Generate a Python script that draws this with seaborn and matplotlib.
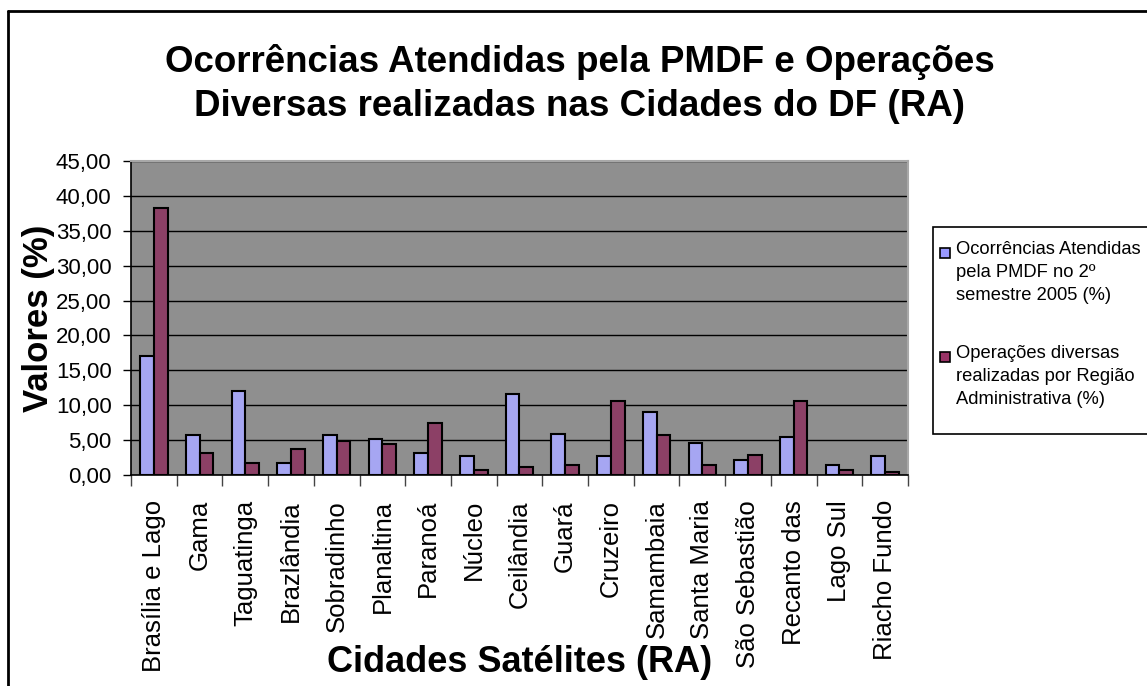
import matplotlib
matplotlib.use("Agg")
import matplotlib.pyplot as plt
import seaborn as sns
import pandas as pd
from matplotlib.ticker import FuncFormatter, FixedLocator, MultipleLocator
from matplotlib.patches import Rectangle
from matplotlib.lines import Line2D

categories = ["Brasília e Lago", "Gama", "Taguatinga", "Brazlândia", "Sobradinho",
              "Planaltina", "Paranoá", "Núcleo", "Ceilândia", "Guará", "Cruzeiro",
              "Samambaia", "Santa Maria", "São Sebastião", "Recanto das", "Lago Sul",
              "Riacho Fundo"]
ocorrencias = [17.1, 5.7, 12.1, 1.7, 5.7, 5.2, 3.2, 2.7, 11.6, 5.9, 2.7, 9.1, 4.6,
               2.1, 5.4, 1.5, 2.7]
operacoes = [38.2, 3.2, 1.7, 3.7, 4.9, 4.4, 7.4, 0.7, 1.2, 1.5, 10.6, 5.7, 1.5,
             2.9, 10.6, 0.7, 0.4]
series_names = ["Ocorrências Atendidas\npela PMDF no 2º\nsemestre 2005 (%)",
                "Operações diversas\nrealizadas por Região\nAdministrativa (%)"]
colors = ["#9999FF", "#993366"]
title = "Ocorrências Atendidas pela PMDF e Operações\nDiversas realizadas nas Cidades do DF (RA)"
y_ticks = [0, 5, 10, 15, 20, 25, 30, 35, 40, 45]

df = pd.DataFrame({
    "Cidade": categories * 2,
    "Valor": ocorrencias + operacoes,
    "Serie": [series_names[0]] * len(categories) + [series_names[1]] * len(categories),
})

sns.set_style("white")
plt.rcParams["font.family"] = ["Liberation Sans", "DejaVu Sans"]
plt.rcParams["text.color"] = "black"
plt.rcParams["axes.labelcolor"] = "black"
plt.rcParams["xtick.color"] = "black"
plt.rcParams["ytick.color"] = "black"

W, H = 1147, 686
fig = plt.figure(figsize=(W / 100, H / 100), dpi=100)
ax = fig.add_axes([131 / W, 1 - 475 / H, (908 - 131) / W, (475 - 161) / H])
ax.set_facecolor("#8F8F8F")

sns.barplot(data=df, x="Cidade", y="Valor", hue="Serie", order=categories,
            hue_order=series_names, palette=colors, width=0.6,
            edgecolor="black", linewidth=1.5, legend=False, ax=ax, zorder=3)

ax.set_xlim(-0.5, len(categories) - 0.5)
ax.set_ylim(0, 45)
ax.yaxis.set_major_locator(FixedLocator(y_ticks))
ax.yaxis.set_major_formatter(FuncFormatter(lambda v, p: f"{v:.2f}".replace(".", ",")))
ax.yaxis.grid(True, color="black", linewidth=1)
ax.xaxis.grid(False)
ax.set_axisbelow(True)

for s in ["left", "bottom"]:
    ax.spines[s].set_color("black")
    ax.spines[s].set_linewidth(1.2)
for s in ["top", "right"]:
    ax.spines[s].set_color("#A8A8A8")
    ax.spines[s].set_linewidth(1.5)

ax.tick_params(axis="y", which="major", direction="out", length=6, width=1,
               color="black", pad=8, labelsize=16, left=True, labelcolor="black")
ax.set_xticks(range(len(categories)))
ax.set_xticklabels(categories, rotation=90, ha="center", va="top", fontsize=18.5,
                   color="black")
ax.tick_params(axis="x", which="major", length=0, pad=18)
ax.xaxis.set_minor_locator(MultipleLocator(1, offset=0.5))
ax.tick_params(axis="x", which="minor", direction="out", length=8, width=1,
               color="#444444", bottom=True)

ax.set_xlabel("")
ax.set_ylabel("Valores (%)", fontsize=25, fontweight="bold", color="black")
ax.yaxis.set_label_coords(-(131 - 55) / (908 - 131), 0.5)

fig.text(520 / W, 1 - 662 / H, "Cidades Satélites (RA)", fontsize=26,
         fontweight="bold", ha="center", va="center", color="black")
fig.text(580 / W, 1 - 84 / H, title, fontsize=26.5, fontweight="bold",
         ha="center", va="center", linespacing=1.33, color="black")

# legend
fig.patches.append(Rectangle((933 / W, 1 - 434 / H), (W + 20 - 933) / W, (434 - 227) / H,
                             transform=fig.transFigure, facecolor="white",
                             edgecolor="black", linewidth=1.2))
entry_y = [253, 357]
for name, col, yy in zip(series_names, colors, entry_y):
    fig.patches.append(Rectangle((940 / W, 1 - (yy + 5) / H), 10 / W, 10 / H,
                                 transform=fig.transFigure, facecolor=col,
                                 edgecolor="black", linewidth=1.2))
    fig.text(956 / W, 1 - (yy - 12) / H, name, fontsize=13.2, ha="left", va="top",
             linespacing=1.45, color="black")

# outer chart border
fig.add_artist(Line2D([8 / W, 1.0], [1 - 11 / H, 1 - 11 / H], transform=fig.transFigure,
                      color="black", linewidth=2))
fig.add_artist(Line2D([8 / W, 8 / W], [0, 1 - 11 / H], transform=fig.transFigure,
                      color="black", linewidth=2))

fig.savefig("out.png", dpi=100, facecolor="white")
